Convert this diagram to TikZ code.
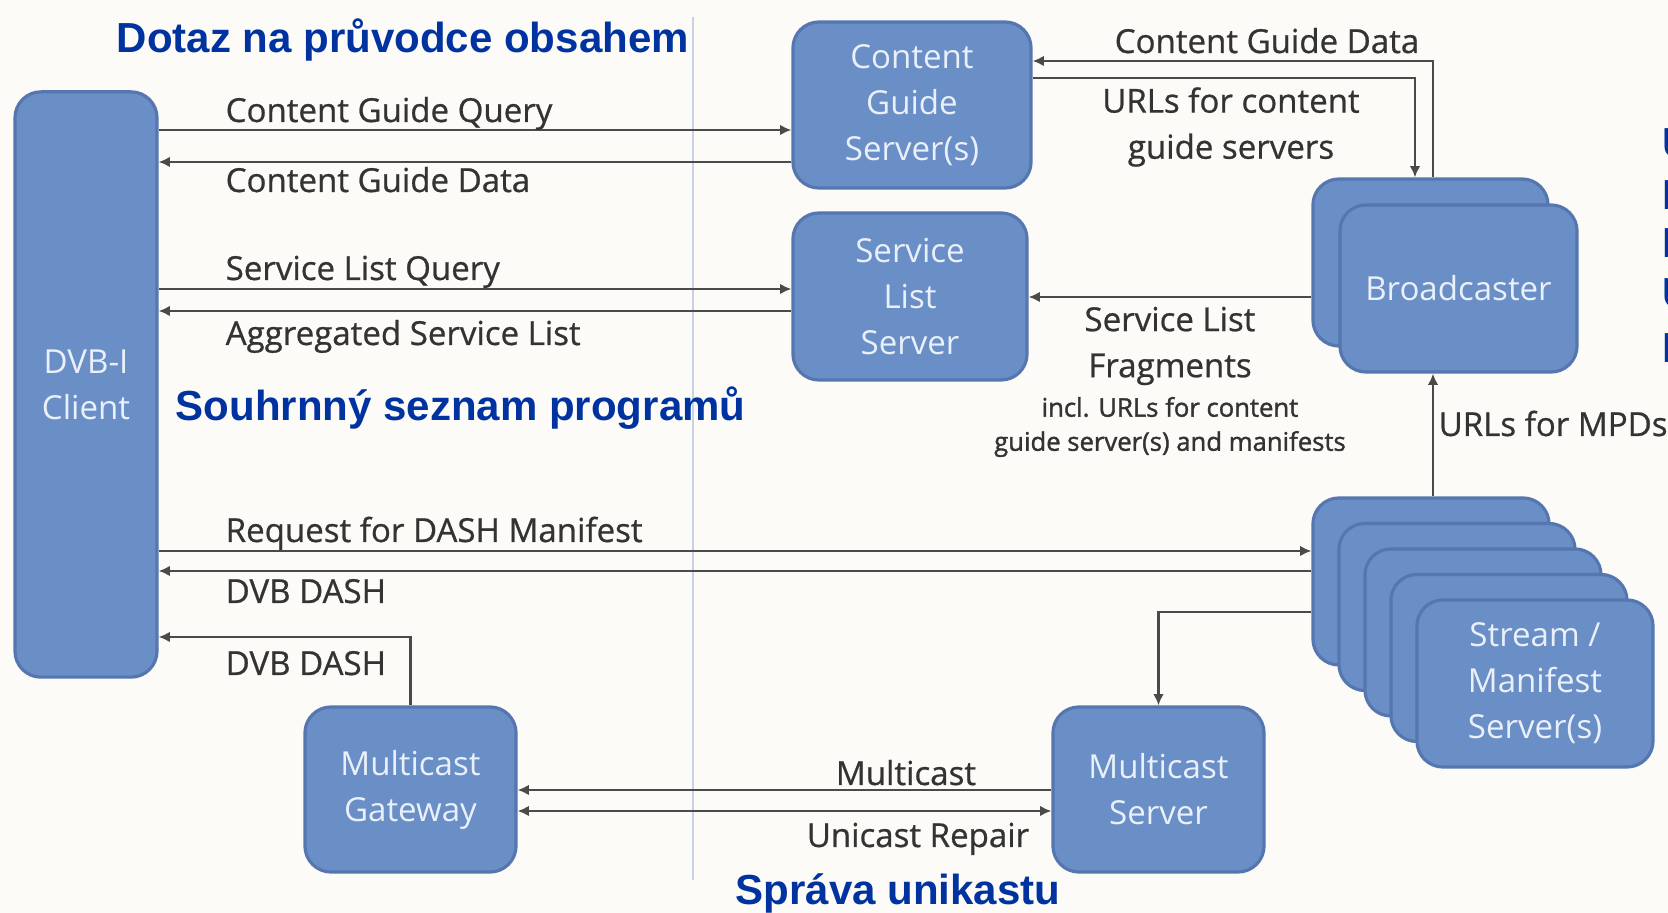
\documentclass[tikz,border=0pt]{standalone}
\usepackage{fontspec}
\setmainfont{Open Sans}
\newfontfamily\labfont{Open Sans}[FakeBold=0.7]
\newfontfamily\notefont{Open Sans}[FakeBold=1.4]
\newfontfamily\headfont{Liberation Sans}
\usetikzlibrary{arrows.meta}

\definecolor{boxfill}{HTML}{6A8EC6}
\definecolor{boxedge}{HTML}{5676B0}
\definecolor{boxtext}{HTML}{EAF0FA}
\definecolor{wire}{HTML}{4A4A4A}
\definecolor{lbl}{HTML}{333333}
\definecolor{headblue}{HTML}{0033A0}
\definecolor{divider}{HTML}{C9D2E3}
\definecolor{paper}{HTML}{FCFBF8}

\tikzset{
  unit box/.style={draw=boxedge, fill=boxfill, line width=0.9pt, rounded corners=0.26cm,
    text=boxtext, align=center, font=\fontsize{9.4}{13.1}\selectfont, inner sep=0pt},
  wire/.style={draw=wire, line width=0.6pt},
  arr/.style={wire, -{Latex[length=3.2pt,width=3pt]}},
  biarr/.style={wire, {Latex[length=3.2pt,width=3pt]}-{Latex[length=3.2pt,width=3pt]}},
  lab/.style={text=lbl, font=\labfont\fontsize{9.4}{13.1}\selectfont, inner sep=0pt, align=center},
  small lab/.style={text=lbl, font=\notefont\fontsize{7.3}{9.7}\selectfont, inner sep=0pt, align=center},
  heading/.style={text=headblue, font=\headfont\bfseries\fontsize{11.95}{14}\selectfont, inner sep=0pt, anchor=base west},
}

\begin{document}
\begin{tikzpicture}[x=0.01cm, y=-0.01cm]
  \useasboundingbox (0,0) rectangle (1668,913);
  \fill[paper] (0,0) rectangle (1668,913);

  % divider between client side and network side
  \draw[divider, line width=0.85pt] (693,17) -- (693,880);

  % boxes
  \node[unit box, minimum width=1.42cm, minimum height=5.85cm] (client) at (86,384.5) {DVB-I\\Client};
  \node[unit box, minimum width=2.38cm, minimum height=1.66cm] (cgs) at (912,105) {Content\\Guide\\Server(s)};
  \node[unit box, minimum width=2.34cm, minimum height=1.67cm] (sls) at (910,296.5) {Service\\List\\Server};
  \node[unit box, minimum width=2.35cm, minimum height=1.67cm] (bcback) at (1430.5,262.5) {};
  \node[unit box, minimum width=2.37cm, minimum height=1.67cm] (bc) at (1458.5,288.5) {Broadcaster};
  \foreach \i in {0,...,3}
    \node[unit box, minimum width=2.36cm, minimum height=1.67cm] (sm\i) at ({1431+26*\i},{581.5+25.5*\i}) {};
  \node[unit box, minimum width=2.36cm, minimum height=1.67cm] (sm) at (1535,683.5) {Stream /\\Manifest\\Server(s)};
  \node[unit box, minimum width=2.11cm, minimum height=1.65cm] (gw) at (410.5,789.5) {Multicast\\Gateway};
  \node[unit box, minimum width=2.11cm, minimum height=1.65cm] (ms) at (1158.5,789.5) {Multicast\\Server};

  % rows and columns of the connectors
  \coordinate (r1) at (0,130);
  \coordinate (r2) at (0,162);
  \coordinate (r3) at (0,289);
  \coordinate (r4) at (0,311);
  \coordinate (r5) at (0,551);
  \coordinate (r6) at (0,571);
  \coordinate (r7) at (0,612);
  \coordinate (r8) at (0,637);
  \coordinate (r9) at (0,790);
  \coordinate (r10) at (0,811);
  \coordinate (rt1) at (0,61);
  \coordinate (rt2) at (0,78);
  \coordinate (rslf) at (0,297);
  \coordinate (cout) at (1433,0);
  \coordinate (cin) at (1415,0);

  % connectors
  \draw[arr] (client.east |- r1) -- (cgs.west |- r1);
  \draw[arr] (cgs.west |- r2) -- (client.east |- r2);
  \draw[arr] (client.east |- r3) -- (sls.west |- r3);
  \draw[arr] (sls.west |- r4) -- (client.east |- r4);
  \draw[arr] (bcback.north -| cout) |- (cgs.east |- rt1);
  \draw[arr] (cgs.east |- rt2) -| (bcback.north -| cin);
  \draw[arr] (bcback.west |- rslf) -- (sls.east |- rslf);
  \draw[arr] (sm0.north -| cout) -- (bc.south -| cout);
  \draw[arr] (client.east |- r5) -- (sm0.west |- r5);
  \draw[arr] (sm0.west |- r6) -- (client.east |- r6);
  \draw[arr] (sm0.west |- r7) -| (ms.north);
  \draw[arr] (gw.north) |- (client.east |- r8);
  \draw[arr] (ms.west |- r9) -- (gw.east |- r9);
  \draw[biarr] (gw.east |- r10) -- (ms.west |- r10);

  % connector labels
  \node[lab, anchor=base west] (l1) at (225,122) {Content Guide Query};
  \node[lab, anchor=base west] (l2) at (225,192) {Content Guide Data};
  \node[lab, anchor=base west] (l3) at (225,280) {Service List Query};
  \node[lab, anchor=base west] (l4) at (225,345) {Aggregated Service List};
  \node[lab, anchor=base west] (l5) at (225,542) {Request for DASH Manifest};
  \node[lab, anchor=base west] (l6) at (225,603) {DVB DASH};
  \node[lab, anchor=base west] (l7) at (225,675) {DVB DASH};
  \node[lab, anchor=base] (l8) at (906,785) {Multicast};
  \node[lab, anchor=base] (l9) at (918,847) {Unicast Repair};
  \node[lab, anchor=base] (l10) at (1267,53) {Content Guide Data};
  \node[lab] (l11) at (1231,127) {URLs for content\\guide servers};
  \node[lab] (l12) at (1170,346) {Service List\\Fragments};
  \node[small lab] (l13) at (1170,427) {incl. URLs for content\\guide server(s) and manifests};
  \node[lab, anchor=base west] (l14) at (1438,436) {URLs for MPDs};

  % section headings
  \node[heading] (h1) at (116,53) {Dotaz na průvodce obsahem};
  \node[heading] (h2) at (175,421) {Souhrnný seznam programů};
  \node[heading] (h3) at (735,905) {Správa unikastu};

  % side notes running off the right edge
  \begin{scope}
    \clip (0,0) rectangle (1668,913);
    \node[heading] (s1) at (1662,158) {U};
    \node[heading] (s2) at (1662,210) {P};
    \node[heading] (s3) at (1662,258) {P};
    \node[heading] (s4) at (1662,308) {U};
    \node[heading] (s5) at (1662,363) {P};
  \end{scope}
\end{tikzpicture}
\end{document}
